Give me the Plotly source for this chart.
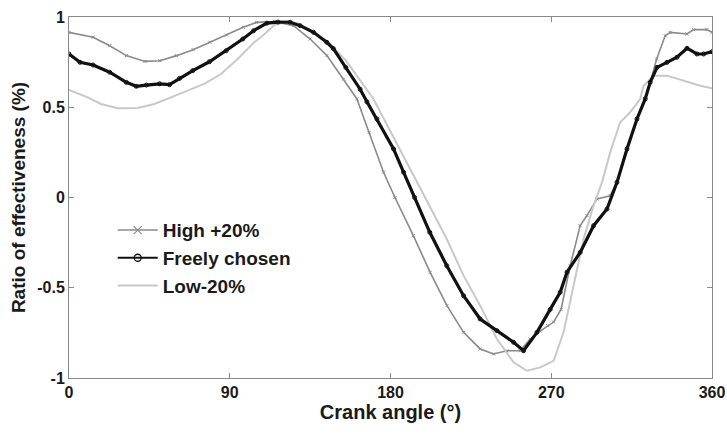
import plotly.graph_objects as go

# Crank angle (deg) and ratio of effectiveness
high_x = [0, 13.5, 22.8, 32.1, 42.5, 50.9, 60.2, 69.5, 78.9, 88.2, 97.5, 105, 115, 125.7,
          135, 144.4, 153.7, 161.2, 168, 176.1, 182.5, 192.8, 202.2, 211.6, 220.9, 230.2,
          237.7, 245.2, 252.6, 258.2, 263.8, 268, 271.3, 275.5, 280.6, 286.2, 290, 295.6,
          303, 306.8, 312.4, 318, 322.6, 325.4, 329, 333.8, 336.6, 346, 349.7, 357.1, 360]
high_y = [0.915, 0.888, 0.841, 0.786, 0.754, 0.758, 0.786, 0.819, 0.860, 0.900, 0.943, 0.970,
          0.975, 0.952, 0.878, 0.786, 0.656, 0.546, 0.36, 0.14, 0.0, -0.211, -0.415, -0.599,
          -0.747, -0.839, -0.867, -0.849, -0.849, -0.784, -0.74, -0.71, -0.69, -0.62, -0.378,
          -0.156, -0.10, -0.008, 0.010, 0.084, 0.269, 0.435, 0.546, 0.638, 0.767, 0.896,
          0.915, 0.906, 0.930, 0.930, 0.915]

free_x = [0, 6.2, 13.5, 22.8, 32.1, 37.7, 43.3, 50.7, 56.3, 61.9, 69.3, 78.6, 88, 97.3, 103.3,
          110.8, 117, 123.8, 129.4, 136.9, 144.3, 148, 155, 163, 166.8, 172.4, 181.7, 187.3,
          193.5, 202, 211.5, 220.9, 230.2, 239.6, 248.9, 254.5, 262, 269.4, 275, 278.8, 286.2,
          293.7, 301.2, 306.8, 312.4, 318, 322.6, 325.4, 329.2, 334.8, 340.4, 346, 351.6,
          355.3, 360]
free_y = [0.795, 0.749, 0.734, 0.694, 0.638, 0.616, 0.623, 0.630, 0.625, 0.660, 0.703, 0.752,
          0.813, 0.878, 0.924, 0.966, 0.972, 0.971, 0.952, 0.915, 0.86, 0.825, 0.72, 0.60,
          0.53, 0.435, 0.269, 0.14, 0.0, -0.193, -0.378, -0.544, -0.673, -0.738, -0.802,
          -0.849, -0.747, -0.62, -0.525, -0.414, -0.304, -0.156, -0.064, 0.084, 0.269, 0.435,
          0.546, 0.638, 0.721, 0.749, 0.777, 0.827, 0.795, 0.795, 0.808]

low_x = [0, 10.5, 17.9, 27.3, 38.5, 47.8, 57.1, 66.4, 75.7, 85.1, 94.4, 103.7, 107.4, 115, 122,
         128, 135, 145, 155, 170.5, 180, 191, 199.4, 211.5, 220.9, 230.2, 239.6, 248.9, 256.4,
         263.8, 271.3, 276.9, 282.5, 288.1, 293.7, 298.4, 303, 308.6, 314.2, 319.8, 321.7,
         327.3, 334.8, 344.1, 353.4, 360]
low_y = [0.596, 0.555, 0.518, 0.494, 0.496, 0.518, 0.555, 0.592, 0.629, 0.684, 0.767, 0.860,
         0.888, 0.955, 0.975, 0.965, 0.93, 0.86, 0.76, 0.546, 0.37, 0.158, 0.0, -0.230,
         -0.433, -0.599, -0.784, -0.913, -0.960, -0.941, -0.905, -0.747, -0.489, -0.230,
         -0.045, 0.084, 0.250, 0.417, 0.472, 0.546, 0.619, 0.675, 0.675, 0.647, 0.619, 0.605]

x_ticks = [0, 90, 180, 270, 360]
y_ticks = [-1, -0.5, 0, 0.5, 1]
y_tick_text = ["-1", "-0.5", "0", "0.5", "1"]

names = ["High +20%", "Freely chosen", "Low-20%"]
HIGH_C, FREE_C, LOW_C = "#8a8a8a", "#111111", "#c8c8c8"
FONT = "Liberation Sans, Arial"

fig = go.Figure()
# data traces
fig.add_trace(go.Scatter(x=high_x, y=high_y, name=names[0], mode="lines+markers", showlegend=False,
                         line=dict(color=HIGH_C, width=1.6),
                         marker=dict(symbol="x-thin-open", size=3, color=HIGH_C,
                                     line=dict(width=1, color=HIGH_C))))
fig.add_trace(go.Scatter(x=low_x, y=low_y, name=names[2], mode="lines", showlegend=False,
                         line=dict(color=LOW_C, width=2)))
fig.add_trace(go.Scatter(x=free_x, y=free_y, name=names[1], mode="lines+markers", showlegend=False,
                         line=dict(color=FREE_C, width=3.2),
                         marker=dict(symbol="circle-open", size=4, color=FREE_C,
                                     line=dict(width=1, color=FREE_C))))
# legend samples
fig.add_trace(go.Scatter(x=[None], y=[None], name=names[0], mode="lines+markers",
                         line=dict(color=HIGH_C, width=1.6),
                         marker=dict(symbol="x-thin-open", size=8, color=HIGH_C,
                                     line=dict(width=1.2, color=HIGH_C))))
fig.add_trace(go.Scatter(x=[None], y=[None], name=names[1], mode="lines+markers",
                         line=dict(color=FREE_C, width=2.2),
                         marker=dict(symbol="circle-open", size=7, color=FREE_C,
                                     line=dict(width=1.3, color=FREE_C))))
fig.add_trace(go.Scatter(x=[None], y=[None], name=names[2], mode="lines",
                         line=dict(color=LOW_C, width=2)))

axis_common = dict(showline=True, linecolor="#8a8a8a", linewidth=1, mirror="ticks",
                   ticks="inside", ticklen=5, tickcolor="#8a8a8a", showgrid=False,
                   zeroline=False, automargin=False,
                   tickfont=dict(family=FONT, size=16, color="#1a1a1a", weight="bold"))

fig.update_xaxes(range=[0, 360], tickvals=x_ticks,
                 title=dict(text="Crank angle (°)", standoff=2,
                            font=dict(family=FONT, size=20, color="#1a1a1a", weight="bold")),
                 **axis_common)
fig.update_yaxes(range=[-1, 1], tickvals=y_ticks, ticktext=y_tick_text,
                 title=dict(text="Ratio of effectiveness (%)", standoff=6,
                            font=dict(family=FONT, size=19, color="#1a1a1a", weight="bold")),
                 **axis_common)

fig.update_layout(
    width=727, height=437,
    margin=dict(l=69, r=15, t=17, b=59),
    paper_bgcolor="white", plot_bgcolor="white",
    showlegend=True,
    legend=dict(x=0.068, y=0.462, xanchor="left", yanchor="top",
                bgcolor="rgba(0,0,0,0)",
                font=dict(family=FONT, size=19, color="#1a1a1a", weight="bold"),
                itemwidth=40),
    font=dict(family=FONT),
)

# remove the default page margin so the 727x437 figure fills the window exactly
fig.write_html("out.html", config={"displayModeBar": False},
               post_script="document.body.style.margin='0';document.body.style.overflow='hidden';")
